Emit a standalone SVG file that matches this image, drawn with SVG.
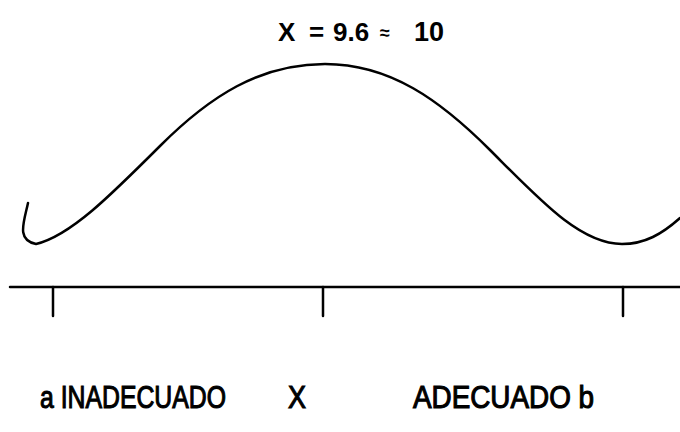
<svg xmlns="http://www.w3.org/2000/svg" width="680" height="432" viewBox="0 0 680 432">
<style>
.ln{fill:none;stroke:#000;stroke-width:2.5;stroke-linecap:round;stroke-linejoin:round}
.t{font-family:"Liberation Sans",Arial,sans-serif;font-weight:bold;fill:#000}
.b{font-family:"Liberation Sans",Arial,sans-serif;font-weight:normal;fill:#000;stroke:#000;stroke-width:1.1;font-size:31px}
</style>
<rect width="680" height="432" fill="#fff"/>
<g id="title">
<text class="t" font-size="26" x="278" y="41">X</text>
<text class="t" font-size="26" x="309" y="41">=</text>
<text class="t" font-size="26" x="333" y="41">9.6</text>
<text class="t" font-size="18" x="380" y="39" font-weight="normal">≈</text>
<text class="t" font-size="27" x="414" y="41">10</text>
</g>
<g id="curve">
<path class="ln" d="M28,203 C24,222 16,240 36,244 C70,236 110,196 160,146 C210,96 260,64 325,64 C390,64 440,100 490,150 C540,200 580,244 622,244 C645,244 662,234 680,218"/>
</g>
<g id="axis">
<line class="ln" x1="10" y1="287" x2="680" y2="287"/>
<line class="ln" x1="53" y1="287" x2="53" y2="316"/>
<line class="ln" x1="323" y1="287" x2="323" y2="316"/>
<line class="ln" x1="623" y1="287" x2="623" y2="316"/>
</g>
<g id="labels">
<text class="b" x="40" y="408" textLength="186" lengthAdjust="spacingAndGlyphs">a INADECUADO</text>
<text class="b" x="288" y="408" textLength="18" lengthAdjust="spacingAndGlyphs">X</text>
<text class="b" x="413" y="408" textLength="181" lengthAdjust="spacingAndGlyphs">ADECUADO b</text>
</g>
</svg>
